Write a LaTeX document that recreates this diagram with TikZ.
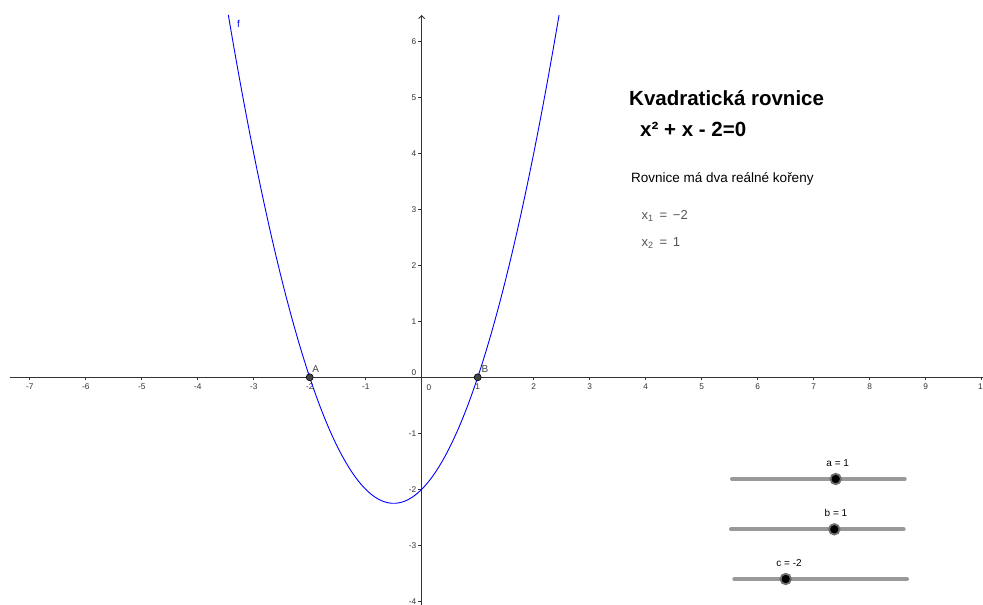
\documentclass[tikz,border=0pt]{standalone}
\usepackage{fontspec}
\setmainfont{Liberation Sans}
\usetikzlibrary{arrows.meta}
\definecolor{axisc}{HTML}{333333}
\definecolor{ggblue}{HTML}{0000FF}
\definecolor{slidergray}{HTML}{999999}
\definecolor{knobring}{HTML}{707070}
\definecolor{labgray}{HTML}{444444}
\definecolor{rootgray}{HTML}{555555}
\begin{document}
\begin{tikzpicture}[x=1pt,y=-1pt,
  ticklab/.style={font=\fontsize{8.3}{8.3}\selectfont, text=axisc, inner sep=0pt},
  ptlab/.style={font=\fontsize{10}{10}\selectfont, text=labgray, inner sep=0pt},
  ggpoint/.style={circle, fill=labgray, draw=black, line width=0.6pt, inner sep=0pt, minimum size=7pt},
  track/.style={slidergray, line width=4pt, line cap=round},
  knob/.style={circle, fill=black, draw=knobring, line width=1.8pt, inner sep=0pt, minimum size=10.5pt},
  sliderlab/.style={font=\fontsize{10}{10}\selectfont, text=black, inner sep=0pt},
  axisline/.style={axisc, line width=0.9pt}]
\useasboundingbox (0,0) rectangle (983,605);
\clip (0,0) rectangle (983,605);
\fill[white] (0,0) rectangle (983,605);

% axes
\draw[axisline] (10,377.3) -- (984,377.3);
\draw[axisline, -{Straight Barb[length=3pt,width=6pt]}] (421.7,606) -- (421.7,15);

% x ticks and labels
\foreach \i in {-7,...,-1,1,2,...,10}{
  \draw[axisline] (421.7+56*\i,377.3) -- ++(0,3);
}
\foreach \i in {-7,...,-1,1,2,...,9}{
  \node[ticklab] (xl\i) at (421.7+56*\i,386.5) {\i};
}
\node[ticklab] (xl10) at (980.5,386.5) {1};
% y ticks and labels
\foreach \j in {-4,...,-1,1,2,...,6}{
  \draw[axisline] (421.7,377.3-56*\j) -- ++(-3.5,0);
  \node[ticklab, anchor=east] (yl\j) at (416.5,377.3-56*\j) {\j};
}
\node[ticklab] (zeroy) at (414,372.5) {0};
\node[ticklab] (zerox) at (429,387.3) {0};

% graph of f
\begin{scope}[shift={(421.7,377.3)}, x=56pt, y=56pt]
  \draw[ggblue, line width=0.9pt] plot[domain=-3.453:2.453, samples=200, smooth] (\x,{\x*\x+\x-2});
\end{scope}
\node[font=\fontsize{10}{10}\selectfont, text=ggblue, inner sep=0pt] (flab) at (238.5,24) {f};

% roots
\node[ggpoint] (A) at (309.7,377.3) {};
\node[ggpoint] (B) at (477.7,377.3) {};
\node[ptlab] (Alab) at (315.7,369.5) {A};
\node[ptlab] (Blab) at (485,369) {B};

% texts
\node[anchor=base west, inner sep=0pt, font=\bfseries\fontsize{20.5}{20.5}\selectfont] (title) at (629,105.5) {Kvadratická rovnice};
\node[anchor=base west, inner sep=0pt, font=\bfseries\fontsize{20.5}{20.5}\selectfont] (eq) at (640,136) {x² + x - 2=0};
\node[anchor=base west, inner sep=0pt, font=\fontsize{13.5}{13.5}\selectfont] (info) at (631,182.5) {Rovnice má dva reálné kořeny};
\node[anchor=base west, inner sep=0pt, text=rootgray, font=\fontsize{13}{13}\selectfont] (x1) at (641.5,219.5) {x\textsubscript{1} \,=\, −2};
\node[anchor=base west, inner sep=0pt, text=rootgray, font=\fontsize{13}{13}\selectfont] (x2) at (641.5,246.5) {x\textsubscript{2} \,=\, 1};

% sliders
\draw[track] (732,479) -- (904.7,479);
\node[knob] (ka) at (835.7,479) {};
\node[sliderlab] (alab) at (837.7,462.7) {a = 1};
\draw[track] (731,529.3) -- (903.7,529.3);
\node[knob] (kb) at (834.3,529.3) {};
\node[sliderlab] (blab) at (836,512.7) {b = 1};
\draw[track] (734.3,579) -- (907,579);
\node[knob] (kc) at (785.7,579) {};
\node[sliderlab] (clab) at (789,563.3) {c = -2};
\end{tikzpicture}
\end{document}
